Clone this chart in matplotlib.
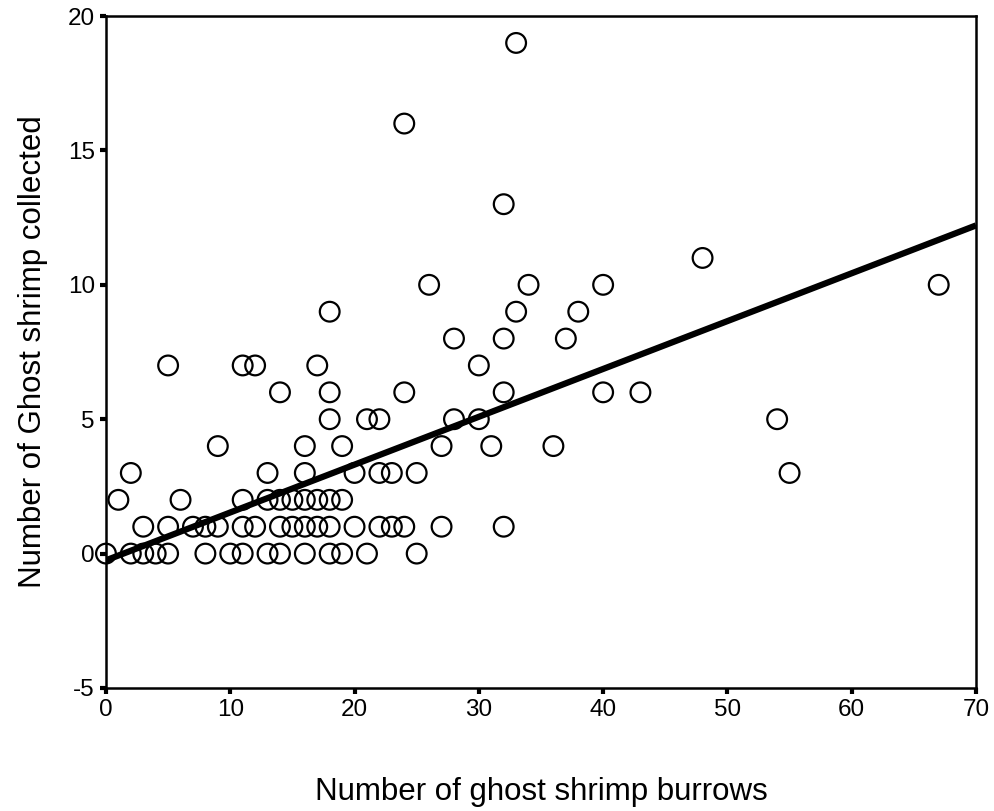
import numpy as np
import matplotlib
matplotlib.use("Agg")
import matplotlib.pyplot as plt

plt.rcParams["font.family"] = ["Liberation Sans", "DejaVu Sans"]
plt.rcParams["axes.unicode_minus"] = False

# burrows (x) and shrimp collected (y)
burrows = [
    0, 2, 3, 4, 5, 8, 10, 11, 13, 14, 16, 18, 19, 21, 25,
    3, 5, 7, 8, 9, 11, 12, 14, 15, 16, 17, 18, 20, 22, 23, 24, 27, 32,
    1, 6, 11, 13, 14, 15, 16, 17, 18, 19,
    2, 13, 16, 20, 22, 23, 25, 55,
    9, 16, 19, 27, 31, 36,
    18, 21, 22, 28, 30, 54,
    14, 18, 24, 32, 40, 43,
    5, 11, 12, 17, 30,
    28, 32, 37,
    18, 33, 38,
    26, 34, 40, 67,
    48, 32, 24, 33,
]
collected = [
    0, 0, 0, 0, 0, 0, 0, 0, 0, 0, 0, 0, 0, 0, 0,
    1, 1, 1, 1, 1, 1, 1, 1, 1, 1, 1, 1, 1, 1, 1, 1, 1, 1,
    2, 2, 2, 2, 2, 2, 2, 2, 2, 2,
    3, 3, 3, 3, 3, 3, 3, 3,
    4, 4, 4, 4, 4, 4,
    5, 5, 5, 5, 5, 5,
    6, 6, 6, 6, 6, 6,
    7, 7, 7, 7, 7,
    8, 8, 8,
    9, 9, 9,
    10, 10, 10, 10,
    11, 13, 16, 19,
]

# fitted line as drawn in the reference
fit_intercept = -0.25
fit_slope = 0.178
line_x = [0, 70]

fig = plt.figure(figsize=(9.94, 8.11), dpi=100)
ax = fig.add_axes([0.1066, 0.1517, 0.8753, 0.8285])

ax.scatter(burrows, collected, s=14.2**2, facecolors="none", edgecolors="black",
           linewidths=1.6, zorder=2, clip_on=False)
lx = np.array(line_x, dtype=float)
ax.plot(lx, fit_intercept + fit_slope * lx, color="black", lw=4.5, zorder=3,
        solid_capstyle="butt")

ax.set_xlim(0, 70)
ax.set_ylim(-5, 20)
ax.set_xticks(range(0, 71, 10))
ax.set_yticks(range(-5, 21, 5))
for s in ax.spines.values():
    s.set_linewidth(1.8)
ax.tick_params(direction="out", length=4, width=3, labelsize=17.5, pad=4)

ax.set_xlabel("Number of ghost shrimp burrows", fontsize=22.5, labelpad=40)
ax.set_ylabel("Number of Ghost shrimp collected", fontsize=22.5, labelpad=14)

fig.savefig("out.png", dpi=100)
